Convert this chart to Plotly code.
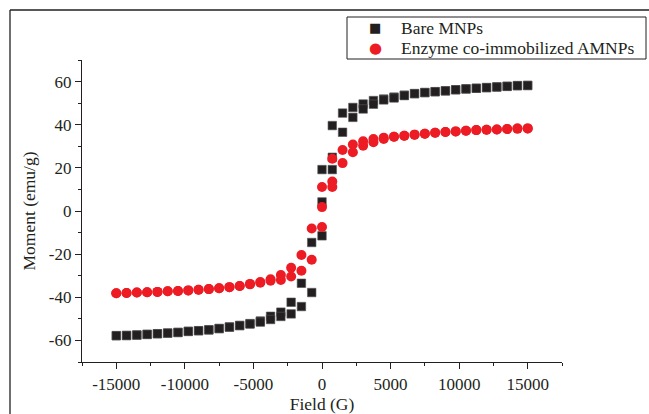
import plotly.graph_objects as go

# Field values (G) of each branch
field = [-15000, -14250, -13500, -12750, -12000, -11250, -10500, -9750, -9000, -8250,
         -7500, -6750, -6000, -5250, -4500, -3750, -3000, -2250, -1500, -750,
         0, 750, 1500, 2250, 3000, 3750, 4500, 5250, 6000, 6750,
         7500, 8250, 9000, 9750, 10500, 11250, 12000, 12750, 13500, 14250, 15000]

# Bare MNPs: descending (upper) and ascending (lower) branches
bare_upper = [-57.8, -57.7, -57.5, -57.2, -56.9, -56.6, -56.3, -55.8, -55.5, -55.1,
              -54.5, -53.8, -53.1, -52.2, -51.0, -48.8, -46.9, -42.3, -33.5, -14.6,
              19.2, 39.6, 45.4, 48.0, 49.6, 51.2, 51.9, 52.8, 53.7, 54.4,
              54.9, 55.3, 55.7, 56.2, 56.6, 56.9, 57.2, 57.5, 57.8, 58.1, 58.2]
bare_lower = [-57.8, -57.7, -57.5, -57.2, -56.9, -56.6, -56.3, -55.8, -55.5, -55.1,
              -54.5, -53.8, -53.1, -52.4, -51.5, -50.3, -48.9, -47.7, -44.3, -37.8,
              -11.5, 19.2, 36.5, 43.4, 47.3, 49.5, 51.5, 52.4, 53.5, 54.4,
              54.9, 55.3, 55.7, 56.2, 56.6, 56.9, 57.2, 57.5, 57.8, 58.1, 58.2]

# Enzyme co-immobilized AMNPs
enz_upper = [-38.1, -38.0, -37.8, -37.7, -37.5, -37.2, -37.1, -36.8, -36.5, -36.2,
             -35.8, -35.3, -34.8, -33.8, -32.9, -31.6, -29.7, -26.3, -20.4, -8.1,
             11.1, 24.2, 28.3, 30.8, 32.3, 33.4, 34.0, 34.4, 34.9, 35.4,
             35.8, 36.3, 36.6, 36.9, 37.2, 37.5, 37.7, 37.8, 38.0, 38.2, 38.3]
enz_lower = [-38.1, -38.0, -37.8, -37.7, -37.5, -37.2, -37.1, -36.8, -36.5, -36.2,
             -35.8, -35.3, -34.8, -34.0, -33.3, -32.3, -32.0, -30.4, -27.7, -22.6,
             -7.4, 11.1, 22.2, 27.2, 30.3, 31.9, 33.4, 34.4, 34.9, 35.4,
             35.8, 36.3, 36.6, 36.9, 37.2, 37.5, 37.7, 37.8, 38.0, 38.2, 38.3]

# Initial (virgin) magnetization points
virgin_field = [0, 750]
bare_virgin = [4.2, 24.9]
enz_virgin = [1.8, 13.7]

series_names = ["Bare MNPs", "Enzyme co-immobilized AMNPs"]
x_ticks = [-15000, -10000, -5000, 0, 5000, 10000, 15000]
y_ticks = [-60, -40, -20, 0, 20, 40, 60]

BLACK = "#231f20"
RED = "#ed1c24"
FONT = "Liberation Serif"

# plot-area geometry in pixels (for paper-coordinate helpers)
L, R, T, B = 82, 562, 60, 362
def px(xp):
    return (xp - L) / (R - L)
def py(yp):
    return (B - yp) / (B - T)

bare_x = field + field + virgin_field
bare_y = bare_upper + bare_lower + bare_virgin
enz_x = field + field + virgin_field
enz_y = enz_upper + enz_lower + enz_virgin

fig = go.Figure()
fig.add_trace(go.Scatter(
    x=bare_x, y=bare_y, mode="markers", name=series_names[0], showlegend=False,
    marker=dict(symbol="square", size=8.5, color=BLACK,
                line=dict(width=0.6, color="#555555")),
))
fig.add_trace(go.Scatter(
    x=enz_x, y=enz_y, mode="markers", name=series_names[1], showlegend=False,
    marker=dict(symbol="circle", size=10, color=RED, line=dict(width=0)),
))

axis_common = dict(
    showline=True, linecolor=BLACK, linewidth=1.3, mirror=False,
    showgrid=False, zeroline=False, automargin=False,
    ticks="outside", ticklen=6, tickwidth=1.2, tickcolor=BLACK,
    tickfont=dict(family=FONT, size=17, color=BLACK),
)

fig.update_xaxes(
    range=[-17500, 17500], tickmode="array", tickvals=x_ticks,
    ticktext=[str(v) for v in x_ticks],
    minor=dict(tickmode="linear", tick0=-17500, dtick=2500, ticks="outside",
               ticklen=3, tickwidth=1.2, tickcolor=BLACK),
    title=dict(text="Field (G)", font=dict(family=FONT, size=17.5, color=BLACK),
               standoff=8),
    **axis_common,
)
fig.update_yaxes(
    range=[-70, 70], tickmode="array", tickvals=y_ticks,
    ticktext=[str(v) for v in y_ticks],
    minor=dict(tickmode="linear", tick0=-70, dtick=10, ticks="outside",
               ticklen=3, tickwidth=1.2, tickcolor=BLACK),
    title=dict(text="Moment (emu/g)", font=dict(family=FONT, size=17.5, color=BLACK),
               standoff=8),
    **axis_common,
)

# outer frame (top and left edges)
fig.add_shape(type="line", xref="paper", yref="paper",
              x0=px(10), x1=px(660), y0=py(10), y1=py(10),
              line=dict(color=BLACK, width=1.3))
fig.add_shape(type="line", xref="paper", yref="paper",
              x0=px(10), x1=px(10), y0=py(430), y1=py(10),
              line=dict(color=BLACK, width=1.3))

# legend box
fig.add_shape(type="rect", xref="paper", yref="paper",
              x0=px(347), x1=px(646), y0=py(59), y1=py(17),
              line=dict(color=BLACK, width=1), fillcolor="white")
legend_rows = [(28, "■", BLACK, 13), (48, "●", RED, 15)]
for (row_y, sym, col, ssize), name in zip(legend_rows, series_names):
    fig.add_annotation(xref="paper", yref="paper", x=px(375), y=py(row_y),
                       text=sym, showarrow=False, xanchor="center", yanchor="middle",
                       font=dict(family="DejaVu Sans", size=ssize, color=col))
    fig.add_annotation(xref="paper", yref="paper", x=px(399), y=py(row_y),
                       text=name, showarrow=False, xanchor="left", yanchor="middle",
                       font=dict(family=FONT, size=17.5, color=BLACK))

fig.update_layout(
    width=649, height=414,
    margin=dict(l=L, r=649 - R, t=T, b=414 - B),
    paper_bgcolor="white", plot_bgcolor="white",
    font=dict(family=FONT, color=BLACK),
    showlegend=False,
)

fig.write_html("out.html")
